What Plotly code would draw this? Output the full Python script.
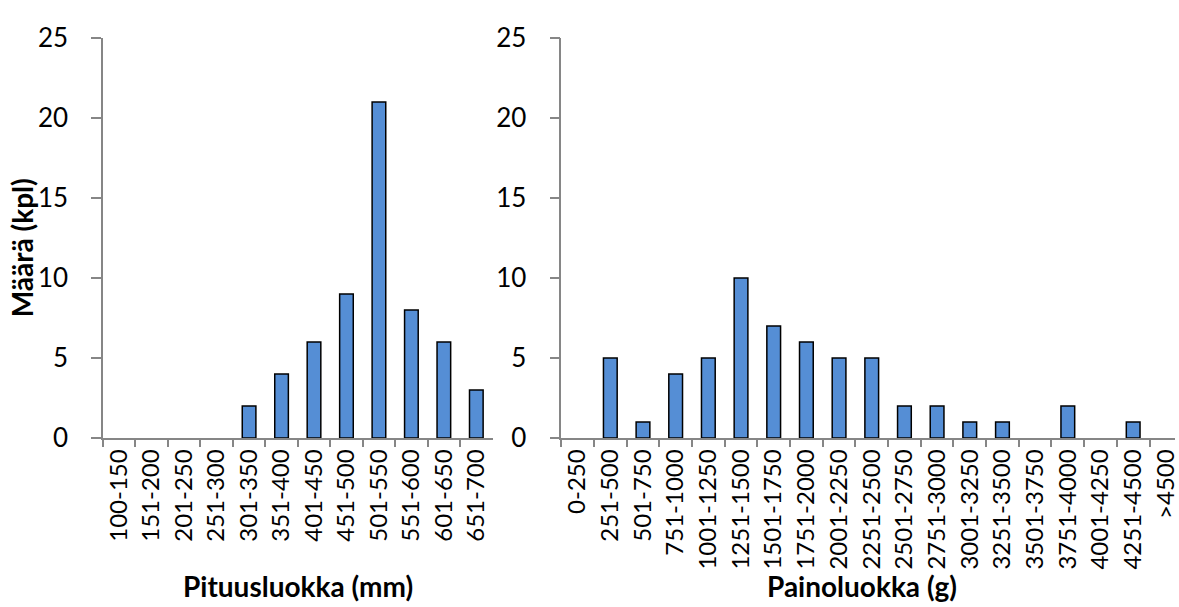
import plotly.graph_objects as go

# Length classes (mm) and counts
length_classes = ["100-150", "151-200", "201-250", "251-300", "301-350", "351-400",
                  "401-450", "451-500", "501-550", "551-600", "601-650", "651-700"]
length_counts = [0, 0, 0, 0, 2, 4, 6, 9, 21, 8, 6, 3]

# Weight classes (g) and counts
weight_classes = ["0-250", "251-500", "501-750", "751-1000", "1001-1250", "1251-1500",
                  "1501-1750", "1751-2000", "2001-2250", "2251-2500", "2501-2750",
                  "2751-3000", "3001-3250", "3251-3500", "3501-3750", "3751-4000",
                  "4001-4250", "4251-4500", ">4500"]
weight_counts = [0, 5, 1, 4, 5, 10, 7, 6, 5, 5, 2, 2, 1, 1, 0, 2, 0, 1, 0]

FONT = "Lato, Calibri, Arial, sans-serif"
BAR_FILL = "#558ED5"
AXIS_GRAY = "#868686"


def outline_widths(values):
    # empty classes get no outline so no flat sliver is drawn on the axis
    return [1.5 if v > 0 else 0 for v in values]


fig = go.Figure()
fig.add_trace(go.Bar(x=length_classes, y=length_counts, xaxis="x", yaxis="y",
                     marker=dict(color=BAR_FILL,
                                 line=dict(color="black", width=outline_widths(length_counts))),
                     showlegend=False))
fig.add_trace(go.Bar(x=weight_classes, y=weight_counts, xaxis="x2", yaxis="y2",
                     marker=dict(color=BAR_FILL,
                                 line=dict(color="black", width=outline_widths(weight_counts))),
                     showlegend=False))

xcommon = dict(type="category", showgrid=False, showline=True, linecolor=AXIS_GRAY,
               linewidth=1.5, ticks="outside", tickcolor=AXIS_GRAY, ticklen=7,
               tickwidth=1.5, tickson="boundaries", tickangle=-90,
               tickfont=dict(family=FONT, size=24, color="black"), fixedrange=True)
ycommon = dict(range=[0, 25], dtick=5, showgrid=False, zeroline=False, showline=True,
               linecolor=AXIS_GRAY, linewidth=1.5, ticks="outside", tickcolor=AXIS_GRAY,
               ticklen=10, tickwidth=1.5, ticklabelstandoff=18,
               tickfont=dict(family=FONT, size=26, color="black"))

left_w = 391 / 1076
right_x0 = 460 / 1076
title_font = dict(family=FONT, size=28, color="black")
title_y = (438 - 586) / 400

fig.update_layout(
    width=1179, height=607,
    margin=dict(l=103, r=0, t=38, b=169),
    paper_bgcolor="white", plot_bgcolor="white",
    bargap=0.58,
    xaxis=dict(domain=[0, left_w], range=[-0.5, 11.5], **xcommon),
    yaxis=dict(anchor="x", **ycommon),
    xaxis2=dict(domain=[right_x0, 1], range=[-0.5, 18.28], anchor="y2", **xcommon),
    yaxis2=dict(anchor="x2", **ycommon),
    annotations=[
        dict(text="<b>Määrä (kpl)</b>", xref="paper", yref="paper",
             x=-81 / 1076, y=(438 - 248) / 400, xanchor="center", yanchor="middle",
             textangle=-90, showarrow=False, font=title_font),
        dict(text="<b>Pituusluokka (mm)</b>", xref="paper", yref="paper",
             x=left_w / 2, y=title_y, xanchor="center", yanchor="middle",
             showarrow=False, font=title_font),
        dict(text="<b>Painoluokka (g)</b>", xref="paper", yref="paper",
             x=(right_x0 + 1) / 2 - 0.006, y=title_y, xanchor="center",
             yanchor="middle", showarrow=False, font=title_font),
    ],
)

fig.write_html("out.html")
